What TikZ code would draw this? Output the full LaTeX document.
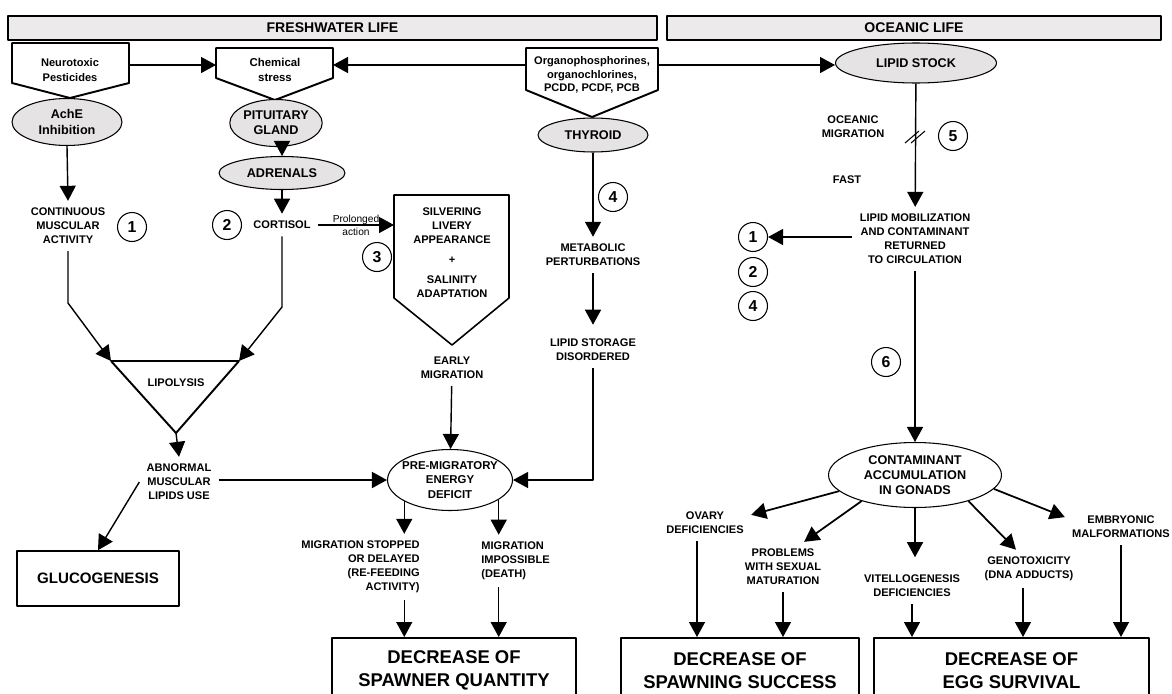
\documentclass[tikz,border=0pt]{standalone}
\usepackage{fontspec}
\setmainfont{Liberation Sans}
\usetikzlibrary{arrows.meta,shapes.geometric}
\definecolor{hdrfill}{RGB}{236,234,234}
\definecolor{ellfill}{RGB}{229,227,227}
\begin{document}
\begin{tikzpicture}[x=0.02cm, y=-0.02cm, line join=round, >={Triangle[length=0.3cm,width=0.32cm]},
	txt/.style={align=center, inner sep=4pt, font=\fontsize{6.3}{7.9}\selectfont\bfseries},
	ell/.style={ellipse, draw, line width=0.6pt, fill=ellfill, inner sep=0pt, align=center, font=\fontsize{7.2}{8.6}\selectfont\bfseries},
	hdr/.style={draw, line width=0.8pt, fill=hdrfill, minimum height=0.48cm, font=\fontsize{8}{9.6}\selectfont\bfseries},
	num/.style={circle, draw, line width=0.6pt, minimum size=0.58cm, inner sep=0pt, font=\fontsize{9}{10}\selectfont\bfseries},
	res/.style={draw, line width=0.9pt, align=center, anchor=north, minimum height=1.3cm, font=\fontsize{10.5}{13}\selectfont\bfseries},
	pent/.style={draw, line width=1.1pt},
	arr/.style={->, line width=0.8pt}]
	\useasboundingbox (0,0) rectangle (1172,693);
	\clip (0,0) rectangle (1172,693);
	% bandeaux
	\node[hdr, minimum width=12.98cm] (fresh) at (332.5,28) {FRESHWATER LIFE};
	\node[hdr, minimum width=9.88cm] (ocean) at (914,28) {OCEANIC LIFE};
	% sources (pentagones)
	\draw[pent] (12,43) -- (129,43) -- (129,83) -- (70,98) -- (12,83) -- cycle;
	\draw[pent] (216,48) -- (333,48) -- (333,78) -- (275,100) -- (216,78) -- cycle;
	\draw[pent] (526,48) -- (658,48) -- (658,90) -- (592,117) -- (526,90) -- cycle;
	\draw[pent, line width=0.9pt] (394,195) -- (509,195) -- (509,298) -- (452,345) -- (394,298) -- cycle;
	\coordinate (neuE) at (129,65); \coordinate (chemW) at (216,65);
	\coordinate (chemE) at (333,65); \coordinate (orgW) at (526,65);
	\coordinate (orgE) at (658,65); \coordinate (silvW) at (394,225);
	\node[txt, font=\fontsize{6.3}{8.5}\selectfont\bfseries] (neuro) at (70,70) {Neurotoxic\\Pesticides};
	\node[txt, font=\fontsize{6.5}{8.8}\selectfont\bfseries] (chem) at (275,70) {Chemical\\stress};
	\node[txt, font=\fontsize{6.3}{7.6}\selectfont\bfseries] (org) at (592,75) {Organophosphorines,\\organochlorines,\\PCDD, PCDF, PCB};
	\node[txt] (silv) at (452,253) {SILVERING\\LIVERY\\APPEARANCE\\[3.5pt]+\\[3.5pt]SALINITY\\ADAPTATION};
	% ellipses
	\node[ell, minimum width=2.2cm, minimum height=0.94cm] (ache) at (67,122) {AchE\\Inhibition};
	\node[ell, minimum width=1.76cm, minimum height=0.94cm] (pit) at (276,123) {PITUITARY\\GLAND};
	\node[ell, minimum width=2.52cm, minimum height=0.66cm] (adr) at (282,173) {ADRENALS};
	\node[ell, minimum width=2.2cm, minimum height=0.68cm] (thy) at (593,135) {THYROID};
	\node[ell, minimum width=3.22cm, minimum height=0.8cm] (lip) at (916,63) {LIPID STOCK};
	\node[ell, fill=white, inner xsep=-4pt, minimum width=2.5cm, minimum height=1.22cm, font=\fontsize{6.5}{8.2}\selectfont\bfseries] (pme) at (450,480) {PRE-MIGRATORY\\ENERGY\\DEFICIT};
	\node[ell, fill=white, inner xsep=-4pt, minimum width=3.46cm, minimum height=1.3cm] (cag) at (915,475) {CONTAMINANT\\ACCUMULATION\\IN GONADS};
	% textes
	\node[txt] (cma) at (68,226) {CONTINUOUS\\MUSCULAR\\ACTIVITY};
	\node[txt] (cort) at (282,225) {CORTISOL};
	\node[txt] (early) at (452,368) {EARLY\\MIGRATION};
	\node[txt] (metab) at (593,255) {METABOLIC\\PERTURBATIONS};
	\node[txt] (lsd) at (593,350) {LIPID STORAGE\\DISORDERED};
	\node[txt] (lipo) at (176,383) {LIPOLYSIS};
	\node[txt] (amu) at (179,482) {ABNORMAL\\MUSCULAR\\LIPIDS USE};
	\node[txt, anchor=east, align=right] (mstop) at (427,567) {MIGRATION STOPPED\\OR DELAYED\\(RE-FEEDING\\ACTIVITY)};
	\node[txt, anchor=west, align=left] (mimp) at (474,561) {MIGRATION\\IMPOSSIBLE\\(DEATH)};
	\node[txt] (ocm) at (853,127) {OCEANIC\\MIGRATION};
	\node[txt] (fast) at (847,180) {FAST};
	\node[txt] (lmob) at (915,239) {LIPID MOBILIZATION\\AND CONTAMINANT\\RETURNED\\TO CIRCULATION};
	\node[txt] (ovary) at (705,523) {OVARY\\DEFICIENCIES};
	\node[txt] (probs) at (783,567) {PROBLEMS\\WITH SEXUAL\\MATURATION};
	\node[txt] (vitel) at (912,586) {VITELLOGENESIS\\DEFICIENCIES};
	\node[txt] (geno) at (1029,569) {GENOTOXICITY\\(DNA ADDUCTS)};
	\node[txt] (embr) at (1121,527) {EMBRYONIC\\MALFORMATIONS};
	% numeros
	\node[num] (n1) at (132,227) {1};
	\node[num] (n2) at (227,225) {2};
	\node[num] (n3) at (377,257) {3};
	\node[num] (n4) at (613,197) {4};
	\node[num] (n5) at (953,136) {5};
	\node[num] (n6) at (886,362) {6};
	\node[num] (n1b) at (753,237) {1};
	\node[num] (n2b) at (753,272) {2};
	\node[num] (n4b) at (753,306) {4};
	% resultats
	\node[draw, line width=0.9pt, minimum width=3.24cm, minimum height=1.1cm, font=\fontsize{8.6}{10}\selectfont\bfseries] (glu) at (98,578.5) {GLUCOGENESIS};
	\node[res, minimum width=4.88cm] (dsq) at (454,637) {DECREASE OF\\SPAWNER QUANTITY};
	\node[res, minimum width=4.76cm] (dss) at (740,637) {DECREASE OF\\SPAWNING SUCCESS};
	\node[res, minimum width=5.5cm] (des) at (1011.5,637) {DECREASE OF\\EGG SURVIVAL};
	% lipolyse
	\coordinate (lipoL) at (111,361); \coordinate (lipoR) at (239,361); \coordinate (lipoB) at (176,433);
	\coordinate (lbend) at (68,303); \coordinate (rbend) at (282,307);
	\draw[line width=0.7pt] (lipoL) -- (lipoR);
	\draw[line width=1.1pt] (lipoL) -- (lipoB) -- (lipoR);
	% fleches eau douce
	\draw[arr] (neuE) -- (chemW);
	\draw[arr] (orgW) -- (chemE);
	\draw[arr] (orgE) -- (orgE -| lip.west);
	\draw[arr] (ache.south) -- (cma.north);
	\draw[arr] (pit.south -| adr) -- (adr.north);
	\draw[arr] (adr) -- (cort);
	\draw[arr] (cort.east) -- (silvW) node[midway, align=center, inner sep=0pt, font=\fontsize{5.8}{7.4}\selectfont] {Prolonged\\action};
	\draw[arr] (cma.south) -- (lbend) -- (lipoL);
	\draw[arr] (cort.south) -- (rbend) -- (lipoR);
	\draw[arr] (lipoB) -- (amu.north);
	\draw[arr] (amu.east |- pme.west) -- (pme.west);
	\draw[arr] (amu.west) -- (glu.north);
	\draw[arr] (early) -- (pme);
	\draw[arr] (thy) -- (metab);
	\draw[arr, shorten >=4pt] (metab) -- (lsd);
	\draw[arr] (lsd.south) |- (pme.east);
	\draw[arr] (pme.205) -- (pme.205 |- mstop.north);
	\draw[arr] (pme.338) -- (pme.338 |- mimp.north);
	\draw[arr] (pme.205 |- mstop.south) -- (pme.205 |- dsq.north);
	\draw[arr] (pme.338 |- mimp.south) -- (pme.338 |- dsq.north);
	% fleches ocean
	\draw[arr] (lip) -- (lmob);
	\coordinate (cut) at (915,137);
	\foreach \d in {-3,3} \draw[line width=0.6pt] (cut) ++(\d-7,6) -- ++(14,-12);
	\draw[arr] (lmob.west |- n1b) -- (n1b);
	\draw[arr] (lmob) -- (cag);
	\draw[arr, line width=1pt] (cag.192) -- (ovary.10);
	\draw[arr, line width=1pt] (cag.206) -- (probs.50);
	\draw[arr, shorten >=6pt] (cag.south) -- (cag.south |- vitel.north);
	\draw[arr, line width=1pt] (cag.334) -- (geno.124);
	\draw[arr, line width=1pt] (cag.350) -- (embr.170);
	\draw[arr] ([xshift=-0.16cm]ovary.south) -- ([xshift=-0.16cm]ovary.south |- dss.north);
	\draw[arr] (probs.south) -- (probs.south |- dss.north);
	\draw[arr] (vitel.south) -- (vitel.south |- des.north);
	\draw[arr] ([xshift=-0.12cm]geno.south) -- ([xshift=-0.12cm]geno.south |- des.north);
	\draw[arr] (embr.south) -- (embr.south |- des.north);
\end{tikzpicture}
\end{document}
